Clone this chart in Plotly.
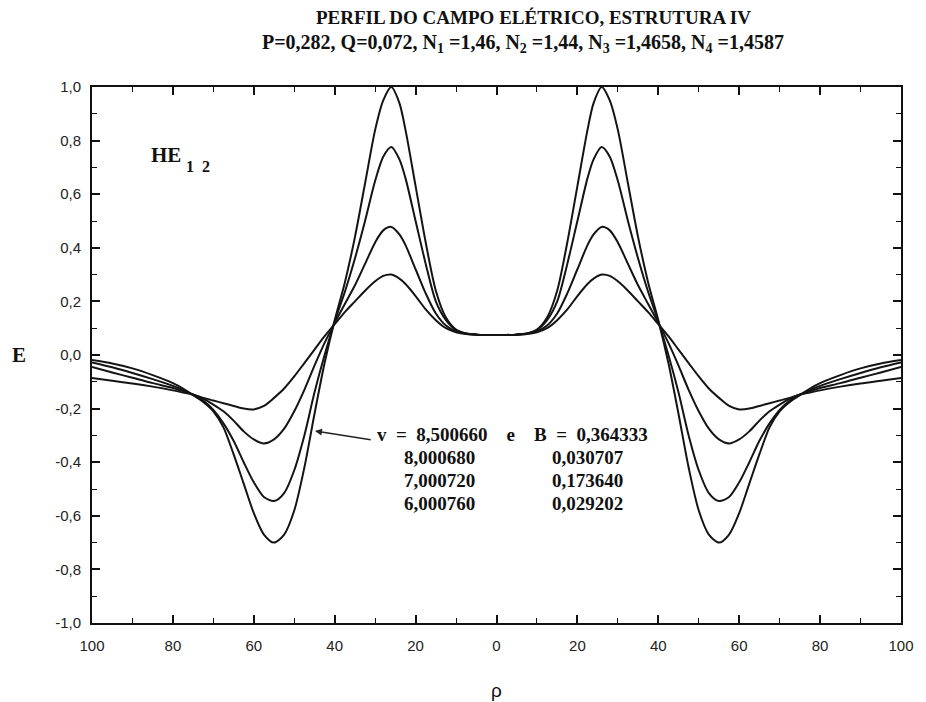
import plotly.graph_objects as go

# Radial positions (one half of the symmetric profile)
rho_half = [0, 2.5, 5, 7.5, 10, 12.5, 15, 17.5, 20, 22.5, 24, 26, 28, 30, 32.5,
            35, 37.5, 40, 42.5, 45, 47.5, 50, 52.5, 55, 57.5, 60, 62.5, 65,
            67.5, 70, 72.5, 75, 77.5, 80, 85, 90, 95, 100]

# Field profile E(rho) for each mode solution
E_v6 = [0.075, 0.075, 0.076, 0.080, 0.095, 0.14, 0.24, 0.42, 0.63, 0.84,
        0.94, 1.0, 0.95, 0.84, 0.64, 0.44, 0.27, 0.13, -0.03, -0.22,
        -0.42, -0.58, -0.67, -0.70, -0.67, -0.59, -0.48, -0.37, -0.27, -0.21,
        -0.175, -0.15, -0.125, -0.105, -0.075, -0.05, -0.032, -0.019]
E_v7 = [0.075, 0.075, 0.076, 0.080, 0.093, 0.13, 0.20, 0.34, 0.50, 0.66,
        0.73, 0.776, 0.74, 0.65, 0.50, 0.36, 0.235, 0.125, 0.0, -0.14,
        -0.30, -0.43, -0.515, -0.545, -0.53, -0.475, -0.40, -0.32, -0.255, -0.205,
        -0.17, -0.148, -0.13, -0.115, -0.09, -0.067, -0.046, -0.028]
E_v8 = [0.075, 0.075, 0.076, 0.079, 0.088, 0.11, 0.155, 0.23, 0.32, 0.41,
        0.45, 0.478, 0.465, 0.42, 0.34, 0.26, 0.19, 0.12, 0.045, -0.04,
        -0.13, -0.21, -0.275, -0.315, -0.33, -0.315, -0.285, -0.245, -0.21, -0.185,
        -0.163, -0.147, -0.135, -0.123, -0.105, -0.085, -0.065, -0.045]
E_v85 = [0.075, 0.075, 0.076, 0.078, 0.085, 0.10, 0.13, 0.17, 0.22, 0.265,
         0.285, 0.30, 0.295, 0.275, 0.24, 0.20, 0.16, 0.115, 0.07, 0.02,
         -0.03, -0.08, -0.125, -0.16, -0.19, -0.203, -0.20, -0.19, -0.18, -0.17,
         -0.16, -0.148, -0.14, -0.132, -0.118, -0.106, -0.096, -0.086]

series = {"v=6,000760": E_v6, "v=7,000720": E_v7,
          "v=8,000680": E_v8, "v=8,500660": E_v85}

x_tickvals = [-100, -80, -60, -40, -20, 0, 20, 40, 60, 80, 100]
x_ticktext = ["100", "80", "60", "40", "20", "0", "20", "40", "60", "80", "100"]
y_tickvals = [-1.0, -0.8, -0.6, -0.4, -0.2, 0.0, 0.2, 0.4, 0.6, 0.8, 1.0]
y_ticktext = ["-1,0", "-0,8", "-0,6", "-0,4", "-0,2", "0,0", "0,2", "0,4", "0,6", "0,8", "1,0"]

# Mode parameters listed in the plot
v_values = ["8,500660", "8,000680", "7,000720", "6,000760"]
B_values = ["0,364333", "0,030707", "0,173640", "0,029202"]

# Full profile: mirror the half-profile about rho = 0
rho_full = [-r for r in reversed(rho_half[1:])] + rho_half

fig = go.Figure()
for name, vals in series.items():
    e_full = list(reversed(vals[1:])) + vals
    fig.add_trace(go.Scatter(x=rho_full, y=e_full, mode="lines", name=name,
                             line=dict(color="#141414", width=2, shape="spline",
                                       smoothing=0.8)))

serif = "Liberation Serif"
sans = "Liberation Sans"
ink = "#111111"

W, H = 926, 702
L, R, T, B = 92, 14, 87, 79
pw, ph = W - L - R, H - T - B


def px(x):
    return (x - L) / pw


def py(y):
    return (H - B - y) / ph


def dx(xpix):
    return (xpix - L) / pw * 200 - 100


def dy(ypix):
    return 1 - (ypix - T) / ph * 2


def note(text, x, y, size, family=serif, xanchor="center", **kw):
    return dict(text=text, x=x, y=y, showarrow=False, xanchor=xanchor,
                yanchor="middle", font=dict(family=family, size=size, color=ink), **kw)


EN, EM = "\u2002", "\u2003"
first_row = (f"<b>v{EN}={EN}{v_values[0]}{EM}e{EM}B{EN}={EN}{B_values[0]}</b>")

annotations = [
    note("<b>PERFIL DO CAMPO ELÉTRICO, ESTRUTURA IV</b>", px(540), py(18), 19,
         xref="paper", yref="paper"),
    note("<b>P=0,282, Q=0,072, N<sub>1</sub> =1,46, N<sub>2</sub> =1,44, "
         "N<sub>3</sub> =1,4658, N<sub>4</sub> =1,4587</b>", px(529), py(44), 20,
         xref="paper", yref="paper"),
    note("<b>E</b>", px(18), py(355), 21, xref="paper", yref="paper"),
    note("ρ", px(502), py(690), 19, family=sans, xref="paper", yref="paper"),
    note("<b>HE</b>", dx(150), dy(155), 21, xanchor="left"),
    note(f"<b>1{EN}2</b>", dx(185), dy(166), 16, xanchor="left"),
    note(first_row, dx(379), dy(434), 19, xanchor="left"),
    dict(text="", x=dx(318), y=dy(431), ax=dx(376), ay=dy(440), axref="x", ayref="y",
         showarrow=True, arrowhead=2, arrowsize=1, arrowwidth=1.4, arrowcolor="#222"),
]
rows_pix = [457, 480, 503]
for a, b, ypix in zip(v_values[1:], B_values[1:], rows_pix):
    annotations.append(note(f"<b>{a}</b>", dx(406), dy(ypix), 19, xanchor="left"))
    annotations.append(note(f"<b>{b}</b>", dx(556), dy(ypix), 19, xanchor="left"))

axis_common = dict(showline=True, linecolor=ink, linewidth=2, mirror="ticks",
                   ticks="inside", ticklen=8, tickwidth=1.5, tickcolor=ink,
                   showgrid=False, zeroline=False,
                   tickfont=dict(family=sans, size=15, color="#222"))

fig.update_layout(
    width=W, height=H, margin=dict(l=L, r=R, t=T, b=B),
    paper_bgcolor="white", plot_bgcolor="white", showlegend=False,
    annotations=annotations,
    xaxis=dict(range=[-100, 100], tickvals=x_tickvals, ticktext=x_ticktext,
               ticklabelstandoff=8,
               minor=dict(dtick=10, ticks="inside", ticklen=5, tickwidth=1.2,
                          tickcolor=ink),
               **axis_common),
    yaxis=dict(range=[-1.0, 1.0], tickvals=y_tickvals, ticktext=y_ticktext,
               ticklabelstandoff=6,
               minor=dict(dtick=0.1, tick0=0, ticks="inside", ticklen=5, tickwidth=1.2,
                          tickcolor=ink),
               **axis_common),
)

fig.write_html("out.html")
